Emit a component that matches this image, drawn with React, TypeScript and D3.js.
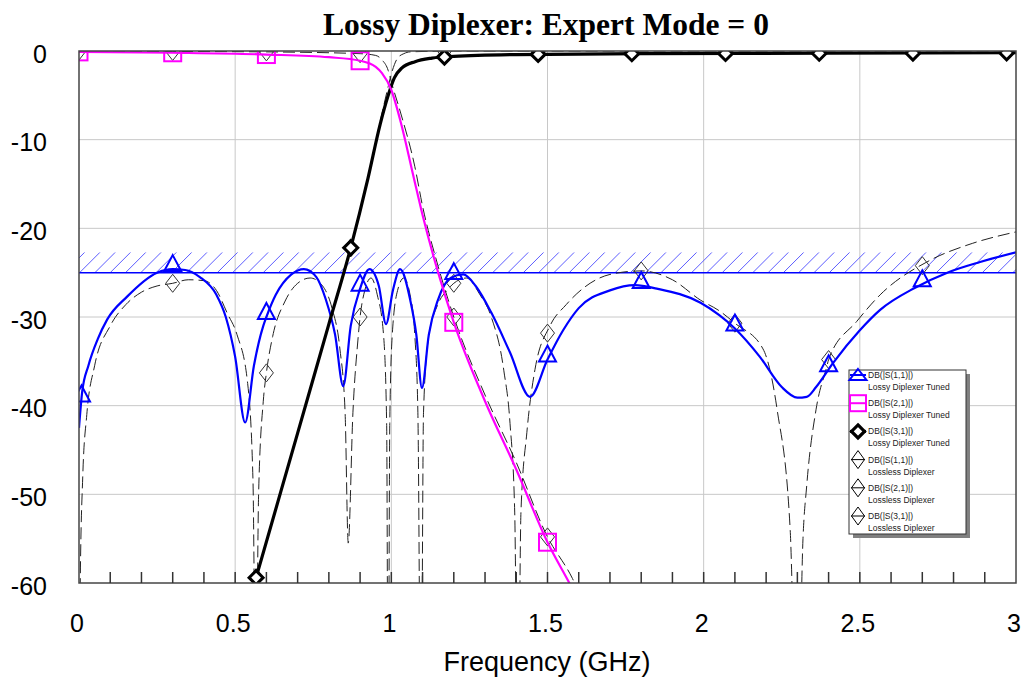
import React from "react";
import * as d3 from "d3";

// ---------- DATA ----------
const title = "Lossy Diplexer: Expert Mode = 0";
const xLabel = "Frequency (GHz)";
const xTicks = [0, 0.5, 1, 1.5, 2, 2.5, 3];
const xTickLabels = ["0", "0.5", "1", "1.5", "2", "2.5", "3"];
const yTicks = [0, -10, -20, -30, -40, -50, -60];
const yTickLabels = ["0", "-10", "-20", "-30", "-40", "-50", "-60"];
const minorTicks = d3.range(1, 30).map((i) => i / 10);

// spec mask (hatched)
const maskTop = -22.7;
const maskLine = -25;

// Lossy S11 (blue)
const s11LossyF = [0, 0.01, 0.03, 0.06, 0.09, 0.154, 0.25, 0.3, 0.34, 0.387, 0.44, 0.47, 0.5, 0.532, 0.56, 0.59, 0.6, 0.63, 0.68, 0.72, 0.76, 0.79, 0.82, 0.846, 0.87, 0.9, 0.93, 0.96, 0.983, 1.005, 1.028, 1.06, 1.08, 1.098, 1.12, 1.15, 1.19, 1.23, 1.27, 1.32, 1.38, 1.444, 1.5, 1.55, 1.6, 1.7, 1.78, 1.85, 1.99, 2.05, 2.1, 2.18, 2.25, 2.3, 2.33, 2.36, 2.414, 2.5, 2.565, 2.677, 2.78, 2.885, 3.0];
const s11LossyDb = [-42.5, -38.5, -35.5, -32.5, -30.3, -27.7, -25.0, -24.6, -24.7, -25.5, -27.5, -30, -34.5, -41.9, -35.5, -31, -30, -27.5, -25.2, -24.6, -25.5, -28, -32, -37.8, -31, -26.8, -24.6, -26.5, -30.8, -27, -24.6, -28, -32, -38, -32, -28, -25.6, -25.2, -26.5, -29.5, -34, -39, -34.8, -31.5, -29, -27, -26.4, -26.8, -28.4, -29.8, -31.3, -34.5, -37.9, -39.1, -39.0, -37.9, -35.2, -31.5, -29.2, -26.7, -25.0, -23.8, -22.7];
const s11LossyMarkers = [0.008, 0.3, 0.6, 0.9, 1.2, 1.5, 1.8, 2.1, 2.4, 2.7];

// Lossy S21 (magenta)
const s21LossyF = [0, 0.3, 0.6, 0.8, 0.9, 0.95, 0.97, 1.0, 1.03, 1.07, 1.1, 1.15, 1.2, 1.3, 1.4, 1.5, 1.57, 1.6];
const s21LossyDb = [-0.1, -0.2, -0.4, -0.7, -1.1, -1.8, -2.5, -4.4, -8, -14, -18.5, -25, -30.6, -39.5, -47.2, -55.4, -60, -62];
const s21LossyMarkers = [0, 0.3, 0.6, 0.9, 1.2, 1.5];

// Lossy S31 (black, thick)
const s31LossyF = [0.55, 0.567, 0.7, 0.8, 0.87, 0.925, 0.964, 0.99, 1.01, 1.034, 1.076, 1.13, 1.2, 1.4, 1.8, 2.4, 3.0];
const s31LossyDb = [-61.5, -59.4, -43.1, -30.8, -22.2, -14.4, -8.3, -5, -3, -1.9, -1.2, -0.8, -0.6, -0.4, -0.3, -0.25, -0.2];
const s31LossyMarkers = [0.567, 0.87, 1.17, 1.47, 1.77, 2.07, 2.37, 2.67, 2.97];

// Lossless S11 (dashed)
const s11LosslessF = [0, 0.004, 0.012, 0.025, 0.05, 0.1, 0.15, 0.2, 0.25, 0.3, 0.35, 0.4, 0.44, 0.475, 0.506, 0.54, 0.557, 0.566, 0.575, 0.59, 0.6, 0.62, 0.66, 0.7, 0.74, 0.78, 0.81, 0.835, 0.852, 0.862, 0.877, 0.893, 0.9, 0.915, 0.935, 0.955, 0.975, 0.985, 0.99, 0.995, 1.003, 1.02, 1.04, 1.06, 1.075, 1.085, 1.095, 1.103, 1.118, 1.15, 1.178, 1.2, 1.24, 1.284, 1.32, 1.36, 1.38, 1.395, 1.405, 1.415, 1.434, 1.46, 1.508, 1.56, 1.62, 1.7, 1.8, 1.9, 1.99, 2.05, 2.1, 2.19, 2.235, 2.277, 2.3, 2.318, 2.33, 2.36, 2.395, 2.4, 2.49, 2.565, 2.725, 2.86, 3.0];
const s11LosslessDb = [-80, -60, -48, -41, -35.5, -31, -28.6, -27.2, -26.5, -26.2, -25.8, -25.9, -27.0, -29.6, -32, -37.5, -48.4, -75, -50, -39.5, -36.3, -32.2, -28.2, -26.2, -25.6, -26.5, -29, -33.5, -40.8, -55.5, -40.8, -32.6, -30, -27, -25.6, -27.5, -32, -42, -80, -42, -32, -27, -25.6, -27.5, -32, -40.8, -80, -40.8, -32.6, -28.5, -27, -26.2, -25.6, -27.5, -30, -36, -42, -52, -80, -52, -43, -35.9, -31, -28.6, -26.6, -25.2, -24.8, -25.8, -28.1, -29.3, -30.7, -33.6, -40.4, -54, -80, -55, -49, -40.4, -35.5, -34.8, -30.5, -27.5, -23.6, -21.7, -20.4];
const s11LosslessMarkers = [0, 0.3, 0.6, 0.9, 1.2, 1.5, 1.8, 2.1, 2.4, 2.7];

// Lossless S21 (dashed)
const s21LosslessF = [0, 0.3, 0.6, 0.9, 0.95, 0.97, 0.99, 1.0, 1.03, 1.075, 1.1, 1.15, 1.2, 1.3, 1.4, 1.5, 1.58, 1.6];
const s21LosslessDb = [0, -0.05, -0.1, -0.3, -0.5, -1.0, -2.2, -3.5, -7, -13, -17.5, -24.3, -30, -38.8, -46.4, -54.8, -59.5, -61];
const s21LosslessMarkers = [0, 0.3, 0.6, 0.9, 1.2, 1.5];

// Lossless S31 (dashed, mostly under the thick lossy trace)
const s31LosslessF = [0.55, 0.567, 0.7, 0.8, 0.87, 0.925, 0.964, 0.99, 1.0, 1.02, 1.04, 1.06, 1.2, 3.0];
const s31LosslessDb = [-61.5, -59.4, -43.1, -30.8, -22.2, -14.2, -8.0, -4.0, -2.6, -0.8, -0.3, -0.1, 0, 0];
const s31LosslessMarkers = [0.567, 0.87, 1.17, 1.47, 1.77, 2.07, 2.37, 2.67, 2.97];

const legendSeries = ["DB(|S(1,1)|)", "DB(|S(2,1)|)", "DB(|S(3,1)|)", "DB(|S(1,1)|)", "DB(|S(2,1)|)", "DB(|S(3,1)|)"];
const legendNames = ["Lossy Diplexer Tuned", "Lossy Diplexer Tuned", "Lossy Diplexer Tuned", "Lossless Diplexer", "Lossless Diplexer", "Lossless Diplexer"];

// ---------- LAYOUT ----------
const W = 1021;
const H = 677;
const X0 = 79, X1 = 1016, Y0 = 51, Y1 = 583;
const x = d3.scaleLinear().domain([0, 3]).range([X0, X1]);
const y = d3.scaleLinear().domain([0, -60]).range([Y0, Y1]);

const BLUE = "#0000ff";
const MAG = "#ff00ff";
const SANS = "Arial, 'Liberation Sans', sans-serif";

function zip(f: number[], v: number[]): [number, number][] {
  return f.map((d, i) => [d, v[i]]);
}
const lineGen = d3
  .line<[number, number]>()
  .x((d) => x(d[0]))
  .y((d) => y(d[1]))
  .curve(d3.curveMonotoneX);

function markerPts(f: number[], v: number[], m: number[]): [number, number][] {
  const interp = d3.scaleLinear().domain(f).range(v).clamp(true);
  return m.map((mf) => [x(mf), y(interp(mf))]);
}

const tri = (cx: number, cy: number, w: number, top: number, bot: number) =>
  `M${cx},${cy - top}L${cx + w / 2},${cy + bot}L${cx - w / 2},${cy + bot}Z`;
const diamond = (cx: number, cy: number, hw: number, hh: number) =>
  `M${cx},${cy - hh}L${cx + hw},${cy}L${cx},${cy + hh}L${cx - hw},${cy}Z`;

export default function App() {
  const hatchLines: number[] = d3.range(X0 - 30, X1 + 30, 15.3);
  const yMaskTop = y(maskTop);
  const yMaskLine = y(maskLine);
  const hH = yMaskLine - yMaskTop;

  const s11L = markerPts(s11LossyF, s11LossyDb, s11LossyMarkers);
  const s21L = markerPts(s21LossyF, s21LossyDb, s21LossyMarkers);
  const s31L = markerPts(s31LossyF, s31LossyDb, s31LossyMarkers);
  const s11N = markerPts(s11LosslessF, s11LosslessDb, s11LosslessMarkers);
  const s21N = markerPts(s21LosslessF, s21LosslessDb, s21LosslessMarkers);
  const s31N = markerPts(s31LosslessF, s31LosslessDb, s31LosslessMarkers);

  const legX = 849, legY = 370, legW = 117, legH = 164;
  const entryY = (i: number) => 375 + i * 28.2;

  return (
    <svg width={W} height={H} style={{ position: "absolute", left: 0, top: 0, background: "#fff" }}>
      <defs>
        <clipPath id="plot">
          <rect x={X0} y={Y0} width={X1 - X0} height={Y1 - Y0} />
        </clipPath>
        <clipPath id="mask">
          <rect x={X0} y={yMaskTop} width={X1 - X0} height={hH} />
        </clipPath>
      </defs>
      <rect x={0} y={0} width={W} height={H} fill="#fff" />

      {/* gridlines */}
      {xTicks.slice(1, -1).map((t) => (
        <line key={"gx" + t} x1={x(t)} x2={x(t)} y1={Y0} y2={Y1} stroke="#c8c8c8" strokeWidth={1} />
      ))}
      {yTicks.slice(1, -1).map((t) => (
        <line key={"gy" + t} x1={X0} x2={X1} y1={y(t)} y2={y(t)} stroke="#c8c8c8" strokeWidth={1} />
      ))}

      {/* hatched mask */}
      <g clipPath="url(#mask)">
        {hatchLines.map((hx, i) => (
          <line key={"h" + i} x1={hx} y1={yMaskLine} x2={hx + hH} y2={yMaskTop} stroke="#5c5cff" strokeWidth={1} />
        ))}
      </g>
      <line x1={X0} x2={X1} y1={yMaskLine} y2={yMaskLine} stroke={BLUE} strokeWidth={1.5} />

      <g clipPath="url(#plot)">
        {/* lossless dashed */}
        {[
          zip(s11LosslessF, s11LosslessDb),
          zip(s21LosslessF, s21LosslessDb),
          zip(s31LosslessF, s31LosslessDb),
        ].map((d, i) => (
          <path key={"ll" + i} d={lineGen(d) || ""} fill="none" stroke="#222" strokeWidth={1} strokeDasharray="12,5" />
        ))}
        {[...s11N, ...s21N, ...s31N].map((p, i) => (
          <path key={"lm" + i} d={diamond(p[0], p[1], 7, 9)} fill="none" stroke="#333" strokeWidth={1} />
        ))}

        {/* lossy */}
        <path d={lineGen(zip(s11LossyF, s11LossyDb)) || ""} fill="none" stroke={BLUE} strokeWidth={2.2} />
        <path d={lineGen(zip(s31LossyF, s31LossyDb)) || ""} fill="none" stroke="#000" strokeWidth={3.2} />
        <path d={lineGen(zip(s21LossyF, s21LossyDb)) || ""} fill="none" stroke={MAG} strokeWidth={2.2} />

        {s11L.map((p, i) => (
          <path key={"tm" + i} d={tri(p[0], p[1], 17, 14, 2)} fill="none" stroke={BLUE} strokeWidth={2} />
        ))}
        {s21L.map((p, i) => (
          <rect key={"sm" + i} x={p[0] - 8.5} y={p[1] - 8.5} width={17} height={17} fill="none" stroke={MAG} strokeWidth={2} />
        ))}
        {s31L.map((p, i) => (
          <path key={"dm" + i} d={diamond(p[0], p[1], 7, 7)} fill="#fff" stroke="#000" strokeWidth={3} />
        ))}
      </g>

      {/* frame */}
      <rect x={X0} y={Y0} width={X1 - X0} height={Y1 - Y0} fill="none" stroke="#444" strokeWidth={1.5} />
      {minorTicks.map((t) => (
        <line key={"mt" + t} x1={x(t)} x2={x(t)} y1={Y1} y2={Y1 - 11} stroke="#333" strokeWidth={1.5} />
      ))}

      {/* tick labels */}
      {yTicks.map((t, i) => (
        <text key={"yl" + t} x={47} y={y(t) + 11.5} textAnchor="end" fontFamily={SANS} fontSize={25} fill="#000">
          {yTickLabels[i]}
        </text>
      ))}
      {xTicks.map((t, i) => (
        <text key={"xl" + t} x={x(t) - 2} y={632} textAnchor="middle" fontFamily={SANS} fontSize={25} fill="#000">
          {xTickLabels[i]}
        </text>
      ))}
      <text x={547} y={671} textAnchor="middle" fontFamily={SANS} fontSize={27} fill="#000">
        {xLabel}
      </text>
      <text x={546} y={35} textAnchor="middle" fontFamily="'Times New Roman', 'Liberation Serif', serif" fontWeight="bold" fontSize={31.5} fill="#000">
        {title}
      </text>

      {/* legend */}
      <rect x={legX + 4} y={legY + 4} width={legW} height={legH} fill="#808080" />
      <rect x={legX} y={legY} width={legW} height={legH} fill="#fff" stroke="#333" strokeWidth={1} />
      {legendSeries.map((s, i) => {
        const cy = entryY(i);
        const cx = 858;
        let sym: React.ReactNode = null;
        let ln: React.ReactNode = null;
        if (i === 0) {
          ln = <line x1={850} x2={866} y1={cy} y2={cy} stroke={BLUE} strokeWidth={2} />;
          sym = <path d={tri(cx, cy, 17, 6, 5)} fill="none" stroke={BLUE} strokeWidth={2} />;
        } else if (i === 1) {
          ln = <line x1={850} x2={866} y1={cy} y2={cy} stroke={MAG} strokeWidth={2} />;
          sym = <rect x={cx - 8} y={cy - 8} width={16} height={16} fill="none" stroke={MAG} strokeWidth={2} />;
        } else if (i === 2) {
          ln = <line x1={850} x2={866} y1={cy} y2={cy} stroke="#000" strokeWidth={3} />;
          sym = <path d={diamond(cx, cy, 6.5, 6.5)} fill="#fff" stroke="#000" strokeWidth={3.2} />;
        } else {
          ln = <line x1={851} x2={865} y1={cy} y2={cy} stroke="#000" strokeWidth={1} />;
          sym = <path d={diamond(cx, cy, 6.5, 9)} fill="none" stroke="#000" strokeWidth={1} />;
        }
        return (
          <g key={"lg" + i}>
            {ln}
            {sym}
            <text x={868} y={cy + 3} fontFamily={SANS} fontSize={8.5} fill="#222">
              {s}
            </text>
            <text x={868} y={cy + 15} fontFamily={SANS} fontSize={8.5} fill="#222">
              {legendNames[i]}
            </text>
          </g>
        );
      })}
    </svg>
  );
}
